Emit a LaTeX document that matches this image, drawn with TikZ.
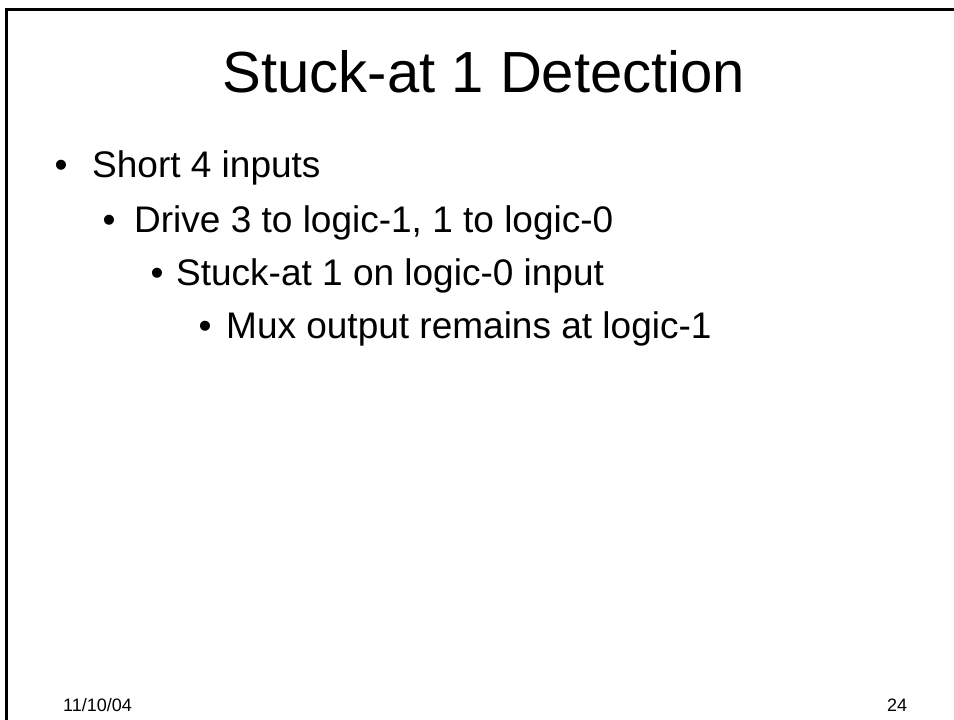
\documentclass[tikz,border=0pt]{standalone}
\usepackage{fontspec}
\setmainfont{Liberation Sans}
\usetikzlibrary{positioning}
\definecolor{slideink}{HTML}{000000}

\begin{document}
\begin{tikzpicture}[
      x=1pt, y=-1pt,
      slidetext/.style={inner sep=0pt, anchor=base west, text=slideink},
      titletext/.style={inner sep=0pt, anchor=base, text=slideink,
        font=\fontsize{58}{70}\selectfont},
      itemtext/.style={slidetext, font=\fontsize{37}{44}\selectfont},
      dot/.style={inner sep=0pt, anchor=base, text=slideink,
        font=\fontsize{37}{44}\selectfont},
      foot/.style={slidetext, font=\fontsize{18}{22}\selectfont},
      frameline/.style={draw=slideink, line width=2.6pt}
    ]
      \useasboundingbox (0,0) rectangle (954,720);
      % slide frame
      \coordinate (framebottom) at (6.5,720);
      \coordinate (framecorner) at (6.5,9.7);
      \coordinate (frameright) at (954,9.7);
      \draw[frameline] (framebottom) -- (framecorner) -- (frameright);

      \node[titletext] (title) at (484,92) {Stuck-at 1 Detection};

      % bullet list
      \node[dot] (dot1) at (61,177) {•};
      \node[itemtext] (item1) at (92,177) {Short 4 inputs};
      \node[dot] (dot2) at (109,232) {•};
      \node[itemtext] (item2) at (134,232) {Drive 3 to logic-1, 1 to logic-0};
      \node[dot] (dot3) at (157,285) {•};
      \node[itemtext] (item3) at (176,285) {Stuck-at 1 on logic-0 input};
      \node[dot] (dot4) at (205,338) {•};
      \node[itemtext] (item4) at (226,338) {Mux output remains at logic-1};

      % footer
      \node[foot] (date) at (63,711) {11/10/04};
      \node[foot] (pagenum) at (887,711) {24};
    \end{tikzpicture}
\end{document}
